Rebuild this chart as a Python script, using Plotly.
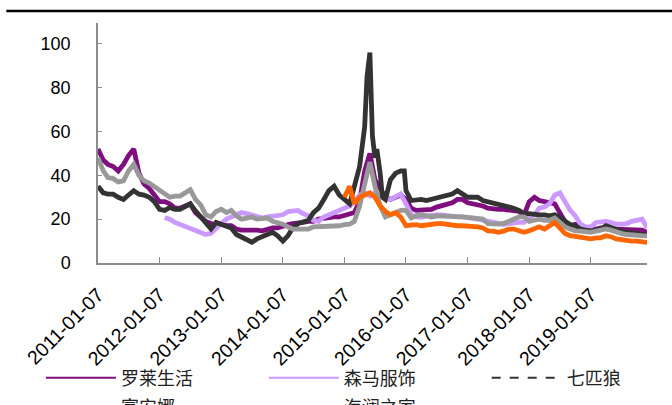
import pandas as pd
import plotly.graph_objects as go

# monthly sampling dates (7th of each month), 2011-01 .. 2019-12
months = [d.strftime("%Y-%m-%d") for d in pd.date_range("2011-01-01", periods=108, freq="MS") + pd.Timedelta(days=6)]

names = ["罗莱生活", "森马服饰", "七匹狼", "富安娜", "海澜之家"]

luolai = [52, 47, 45, 44, 42, 45, 49, 52, 41, 36, 34, 31,
          28, 28, 27, 25, 25, 26, 27, 23, 21, 19, 18, 17,
          18, 17, 17, 15.5, 15, 15, 15.5, 15, 14.7, 15.5, 16, 16,
          17, 17.5, 18, 18, 18.5, 19, 19, 20, 20.5, 21, 21, 21,
          21.5, 22, 23, 28, 42, 50, 38, 34, 30, 29, 30, 31,
          29, 25, 24, 24, 24.5, 24.5, 25.5, 26, 27, 27.5, 29, 29,
          27.5, 27, 27, 26, 25, 24.5, 24.5, 24.5, 24, 24, 23.5, 22,
          28, 30, 28.5, 28, 27.5, 27, 23, 19, 17, 17.7, 16.5, 16,
          15.5, 15.5, 16, 15.5, 15.5, 15.5, 15.5, 15.5, 15.5, 15.5, 15, 14]

senma = [None] * 13 + [
          20.8, 20, 18.5, 17.5, 17, 15.5, 15, 13.5, 13, 13.5, 16,
          18, 20, 21, 22, 23, 22.5, 22, 21, 20.5, 21, 21.5, 21.5,
          22, 23.5, 24, 24, 22.5, 21.5, 19.5, 19, 21, 22, 23.5, 24.5,
          25, 26, 28, 31, 32, 30.6, 32, 30.6, 29.5, 29, 30, 31.5,
          27, 22, 21, 20.8, 21.5, 22, 22, 22, 21.5, 21.5, 21, 21,
          20.8, 20.5, 20, 19.5, 19, 18.5, 17.7, 17.7, 18, 18.5, 18.5, 18.5,
          20.8, 22, 25, 25.5, 27, 31, 32, 28, 24, 21.5, 17.7, 16.5,
          16.5, 18.5, 19, 19, 18.5, 17.7, 17.7, 18, 19, 19.5, 20, 16]

qipilang = [35, 32, 31.4, 31.4, 30, 29, 31, 33, 31.4, 31, 30, 28,
            24.5, 24, 25.3, 24.5, 24.5, 26, 27, 23.8, 21, 18, 15.5, 18.5,
            17.7, 16.5, 16, 13, 12, 11, 9.5, 11, 12, 13, 14, 12.4,
            10, 12.5, 16, 18, 18.5, 19.5, 23, 25, 29, 33, 35, 31,
            29, 27, 35, 44, 62, 96, 48, 41, 29, 38, 41, 42,
            33, 28.5, 29, 29, 28.5, 29, 29.5, 30.5, 31, 31.5, 33, 31.5,
            30, 30, 30, 28.5, 28, 27, 26.5, 26, 26, 25, 24, 22.5,
            22.5, 22, 22, 22, 21.5, 22, 21, 19, 17.5, 17, 15.5, 15,
            14.7, 15, 15.5, 17, 16, 15.5, 14.5, 14, 14, 13.5, 13, 12.5]
# extra weekly readings around the mid-2015 spike
qipilang_extra_dates = ["2015-05-21", "2015-06-14", "2015-06-22", "2015-07-18", "2015-08-20", "2015-12-28"]
qipilang_extra_values = [85, 82, 58, 52, 30, 42]

fuanna = [48, 42, 39, 38.5, 37, 37.5, 42, 45, 40, 37.5, 36.5, 35,
          33.5, 31.5, 30, 30.5, 30.5, 32, 33.5, 29, 26.5, 22, 21, 23.5,
          24.5, 23, 24, 21.5, 20, 20.5, 21, 20, 20.5, 20.5, 19, 18.5,
          17.7, 16.5, 15.5, 15.5, 15.5, 15.5, 16.5, 16.5, 17, 17, 17, 17,
          17.5, 17.7, 19, 26, 36, 46, 35, 26, 21, 22, 23, 24,
          24, 20.5, 21.5, 22, 21.5, 21, 21.5, 21.5, 21, 21, 21, 21,
          20.8, 20.5, 20.5, 20, 18, 17.7, 17.7, 18, 19, 19.5, 21, 21,
          19, 19.5, 20, 19.5, 19.5, 20.5, 18.5, 16.5, 15.5, 14.7, 14.5, 14,
          14, 14.5, 15, 15.5, 15, 14, 13.5, 13, 13, 12.7, 12.5, 12.4]

hailan = [None] * 48 + [
          30, 35, 27, 30, 31, 32, 30, 26, 23.5, 22, 23, 21,
          17, 17.5, 17.5, 17, 17.5, 17.5, 18, 18, 17.5, 17, 17, 17,
          17, 16.5, 16.5, 16, 14.7, 14.5, 14, 14.5, 15.5, 15.5, 15, 14,
          14.7, 15.5, 16.5, 15.5, 17, 18.5, 16, 13.5, 12.5, 12, 11.5, 11,
          11, 11.5, 11.5, 12.4, 12, 11, 10.5, 10, 10, 10, 9.7, 9.4]

colors = ["#7F0F7E", "#CC99FF", "#333333", "#999999", "#FF6600"]

tick_dates = ["2011-01-07", "2012-01-07", "2013-01-07", "2014-01-07", "2015-01-07",
              "2016-01-07", "2017-01-07", "2018-01-07", "2019-01-07"]
y_ticks = [0, 20, 40, 60, 80, 100]

# merge the extra spike readings into the 七匹狼 series
qpl = pd.concat([
    pd.Series(qipilang, index=pd.to_datetime(months)),
    pd.Series(qipilang_extra_values, index=pd.to_datetime(qipilang_extra_dates)),
]).sort_index()

series_x = [months, months, list(qpl.index), months, months]
series_y = [luolai, senma, list(qpl.values), fuanna, hailan]

fig = go.Figure()
for nm, xs, ys, col in zip(names, series_x, series_y, colors):
    fig.add_trace(go.Scatter(x=xs, y=ys, mode="lines", name=nm, showlegend=False,
                             line=dict(color=col, width=4.8), connectgaps=False))

# legend entries (one legend per entry to place them like the original)
legend_ids = ["legend", "legend2", "legend3", "legend4", "legend5"]
dashes = ["solid", "solid", "dash", "solid", "solid"]
for nm, col, lid, ds in zip(names, colors, legend_ids, dashes):
    fig.add_trace(go.Scatter(x=[None], y=[None], mode="lines", name=nm, legend=lid,
                             showlegend=True, line=dict(color=col, width=2, dash=ds)))

leg_common = dict(orientation="h", xanchor="left", yanchor="middle", itemwidth=70,
                  bgcolor="rgba(0,0,0,0)", borderwidth=0,
                  font=dict(family="Noto Sans CJK SC, sans-serif", size=18, color="#222"))
row1 = -0.479
row2 = -0.60
col_x = [-0.104, 0.302, 0.708]
fig.update_layout(
    legend=dict(x=col_x[0], y=row1, **leg_common),
    legend2=dict(x=col_x[1], y=row1, **leg_common),
    legend3=dict(x=col_x[2], y=row1, **leg_common),
    legend4=dict(x=col_x[0], y=row2, **leg_common),
    legend5=dict(x=col_x[1], y=row2, **leg_common),
)

axis_col = "#8C8C8C"
fig.update_layout(
    width=672, height=405,
    margin=dict(l=98, r=25, t=23, b=142, autoexpand=False),
    paper_bgcolor="white", plot_bgcolor="white",
    font=dict(family="Arial, Liberation Sans, sans-serif", size=18, color="#000"),
    xaxis=dict(type="date", range=["2011-01-07", "2019-12-06"],
               tickvals=tick_dates, ticktext=tick_dates, tickangle=-45,
               ticks="inside", ticklen=6, tickcolor=axis_col, tickwidth=1,
               showline=True, linecolor=axis_col, linewidth=1.5,
               showgrid=False, zeroline=False, automargin=False, ticklabelstandoff=11,
               tickfont=dict(family="Arial, Liberation Sans, sans-serif", size=19.5, color="#000")),
    yaxis=dict(range=[0, 109.5], tickvals=y_ticks,
               ticks="inside", ticklen=4, tickcolor=axis_col, tickwidth=1,
               showline=True, linecolor=axis_col, linewidth=1.5,
               showgrid=False, zeroline=False, automargin=False, ticklabelstandoff=22,
               tickfont=dict(family="Arial, Liberation Sans, sans-serif", size=18, color="#000")),
    shapes=[dict(type="line", xref="paper", yref="paper", x0=-0.167, x1=1.05, y0=1.05, y1=1.05,
                 line=dict(color="black", width=2.5))],
)

fig.write_html("out.html", config={"displayModeBar": False},
               post_script="document.body.style.margin='0';document.body.style.overflow='hidden';")
